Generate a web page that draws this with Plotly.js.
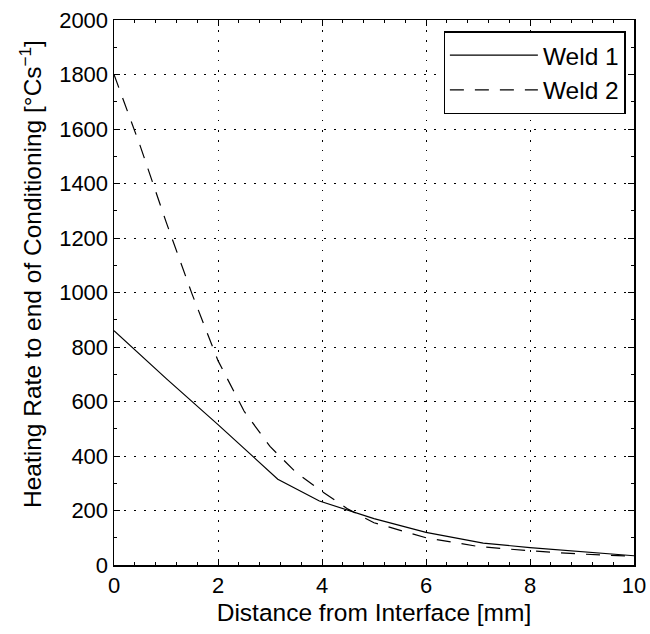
<!DOCTYPE html>
<html><head><meta charset="utf-8">
<script src="https://cdn.plot.ly/plotly-3.0.1.min.js"></script>
<style>html,body{margin:0;padding:0;background:#fff}</style>
</head><body><div id="chart" style="width:650px;height:634px"></div>
<script>
var weld1X = [0, 1, 2, 3.15, 3.95, 5, 6, 7.1, 8, 9, 10];
var weld1Y = [860, 685, 515, 315, 235, 170, 120, 80, 64, 49, 34];
var weld2X = [0, 0.5, 1, 1.5, 2, 2.5, 3, 3.5, 4, 4.5, 5, 6, 7, 8, 9, 10];
var weld2Y = [1800, 1540, 1260, 995, 750, 565, 435, 340, 270, 205, 155, 100, 68, 52, 40, 32];
var seriesNames = ["Weld 1", "Weld 2"];
var xTicks = [0, 2, 4, 6, 8, 10];
var yTicks = [0, 200, 400, 600, 800, 1000, 1200, 1400, 1600, 1800, 2000];
var xTitle = "Distance from Interface [mm]";
var yTitle = "Heating Rate to end of Conditioning [°Cs<sup>−1</sup>]";

var fam = "Liberation Sans, Arial, sans-serif";
var tickFont = {family: fam, size: 22, color: "#000"};
var textFont = {family: fam, size: 24.5, color: "#000"};
var traces = [
  {x: weld1X, y: weld1Y, name: seriesNames[0], legendgroup: "a", mode: "lines", line: {color: "#000", width: 1.2, dash: "solid"}},
  {x: weld2X, y: weld2Y, name: seriesNames[1], legendgroup: "b", mode: "lines", line: {color: "#000", width: 1.2, dash: "14px,11px"}}
];
function axis(range, ticks, minorStep) {
  return {
    range: range, tickmode: "array", tickvals: ticks, ticktext: ticks.map(String),
    ticks: "inside", ticklen: 6, tickcolor: "#000", tickwidth: 1,
    showline: true, linecolor: "#000", linewidth: 1.5, mirror: "ticks",
    showgrid: true, gridcolor: "#000", gridwidth: 1, griddash: "1.5px,8.5px",
    zeroline: false, tickfont: tickFont, automargin: false,
    minor: {dtick: minorStep, ticks: "inside", ticklen: 3, tickcolor: "#000", showgrid: false}
  };
}
var xa = axis([0, 10], xTicks, 0.4);
xa.title = {text: xTitle, font: textFont, standoff: 7};
var ya = axis([0, 2000], yTicks, 100);
var layout = {
  width: 650, height: 634,
  margin: {l: 114, r: 16, t: 20, b: 69},
  paper_bgcolor: "#fff", plot_bgcolor: "#fff",
  font: textFont, showlegend: true,
  xaxis: xa, yaxis: ya,
  annotations: [{text: yTitle, textangle: -90, font: textFont, showarrow: false,
                 xref: "paper", yref: "paper", x: 0, y: 0.534, xanchor: "center", yanchor: "middle",
                 xshift: -83}],
  legend: {x: 0.984, y: 0.979, xanchor: "right", yanchor: "top", bgcolor: "#fff",
           bordercolor: "#000", borderwidth: 1.2, font: textFont, tracegroupgap: 0,
           itemwidth: 88}
};
Plotly.newPlot("chart", traces, layout, {displayModeBar: false, staticPlot: true});
</script></body></html>
